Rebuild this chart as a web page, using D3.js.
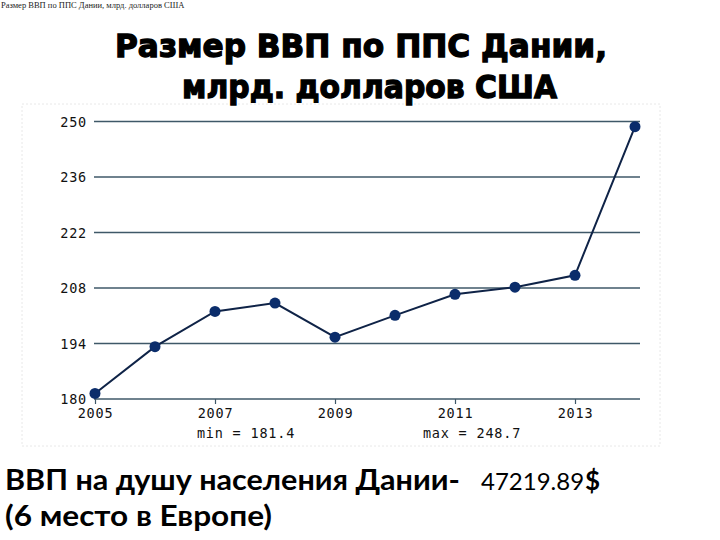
<!DOCTYPE html>
<html>
<head>
<meta charset="utf-8">
<script src="https://cdn.jsdelivr.net/npm/d3@7"></script>
<style>
  html, body { margin: 0; padding: 0; background: #ffffff; }
  svg { display: block; }
</style>
</head>
<body>
<svg id="chart" width="720" height="540"></svg>
<script>
// ---- data ----
const years = [2005, 2006, 2007, 2008, 2009, 2010, 2011, 2012, 2013, 2014];
const gdpPPP = [181.4, 193.2, 202.1, 204.2, 195.6, 201.1, 206.4, 208.2, 211.2, 248.7];
const yTicks = [180, 194, 208, 222, 236, 250];
const xTicks = [2005, 2007, 2009, 2011, 2013];
const titleLines = ["Размер ВВП по ППС Дании,", "млрд. долларов США"];
const smallCaption = "Размер ВВП по ППС Дании, млрд. долларов США";
const minLabel = "min = 181.4";
const maxLabel = "max = 248.7";
const footerLine1 = "ВВП на душу населения Дании-";
const footerValue = "47219.89";
const footerCurrency = "$";
const footerLine2 = "(6 место в Европе)";

const svg = d3.select("#chart");

// faint frame around chart picture
svg.append("rect")
  .attr("x", 22).attr("y", 104).attr("width", 638).attr("height", 342)
  .attr("fill", "none").attr("stroke", "#e8e8e8").attr("stroke-dasharray", "2,2");

// small caption top-left
svg.append("text")
  .attr("x", 1).attr("y", 8)
  .attr("font-family", "Liberation Serif, serif")
  .attr("font-size", 8.5)
  .attr("fill", "#222")
  .text(smallCaption);

// title
const titleSpec = [{x: 115, w: 492, y: 57}, {x: 182, w: 375, y: 98}];
svg.append("g").selectAll("text").data(titleLines).join("text")
  .attr("x", (d, i) => titleSpec[i].x)
  .attr("y", (d, i) => titleSpec[i].y)
  .attr("textLength", (d, i) => titleSpec[i].w)
  .attr("lengthAdjust", "spacingAndGlyphs")
  .attr("font-family", "DejaVu Sans, sans-serif")
  .attr("font-weight", "bold")
  .attr("font-size", 32)
  .attr("fill", "#000")
  .attr("stroke", "#000").attr("stroke-width", 1.3)
  .text(d => d);

// scales
const x = d3.scaleLinear().domain([2005, 2014]).range([95, 635]);
const y = d3.scaleLinear().domain([180, 250]).range([399, 121.5]);

const monoFont = "DejaVu Sans Mono, Liberation Mono, monospace";

// gridlines
svg.append("g").selectAll("line").data(yTicks).join("line")
  .attr("x1", 94).attr("x2", 640)
  .attr("y1", d => y(d)).attr("y2", d => y(d))
  .attr("stroke", "#3f5868").attr("stroke-width", 1.6);

// y labels
svg.append("g").selectAll("text").data(yTicks).join("text")
  .attr("x", 87).attr("y", d => y(d) + 5)
  .attr("text-anchor", "end")
  .attr("font-family", monoFont)
  .attr("font-size", 13.5)
  .attr("letter-spacing", 0.8)
  .attr("fill", "#111")
  .text(d => d);

// x axis (ticks + labels)
const xAxis = d3.axisBottom(x).tickValues(xTicks).tickFormat(d3.format("d")).tickSize(5).tickPadding(4);
const gx = svg.append("g").attr("transform", `translate(0,${y(180)})`).call(xAxis);
gx.select(".domain").remove();
gx.selectAll(".tick line").attr("stroke", "#3f5868").attr("stroke-width", 1.2);
gx.selectAll(".tick text")
  .attr("font-family", monoFont)
  .attr("font-size", 13.5)
  .attr("letter-spacing", 0.8)
  .attr("fill", "#111");

// min / max annotations
svg.append("text")
  .attr("x", 246).attr("y", 438).attr("text-anchor", "middle")
  .attr("font-family", monoFont).attr("font-size", 13.5).attr("letter-spacing", 0.8)
  .attr("fill", "#111").text(minLabel);
svg.append("text")
  .attr("x", 472).attr("y", 438).attr("text-anchor", "middle")
  .attr("font-family", monoFont).attr("font-size", 13.5).attr("letter-spacing", 0.8)
  .attr("fill", "#111").text(maxLabel);

// line
const pts = years.map((yr, i) => [yr, gdpPPP[i]]);
svg.append("path")
  .datum(pts)
  .attr("fill", "none")
  .attr("stroke", "#0f2347")
  .attr("stroke-width", 2)
  .attr("d", d3.line().x(d => x(d[0])).y(d => y(d[1])));

// markers
svg.append("g").selectAll("circle").data(pts).join("circle")
  .attr("cx", d => x(d[0])).attr("cy", d => y(d[1]))
  .attr("r", 5.5)
  .attr("fill", "#0b2d6b");

// footer
const footFont = "Lato, Open Sans, sans-serif";
svg.append("text")
  .attr("x", 5).attr("y", 490)
  .attr("textLength", 455).attr("lengthAdjust", "spacingAndGlyphs")
  .attr("font-family", footFont).attr("font-size", 28).attr("font-weight", "bold")
  .attr("fill", "#000").text(footerLine1);
const numText = svg.append("text")
  .attr("x", 481).attr("y", 490)
  .attr("font-family", footFont).attr("font-size", 24).attr("font-weight", "normal")
  .attr("fill", "#000").text(footerValue);
const numEnd = 481 + numText.node().getComputedTextLength();
svg.append("text")
  .attr("x", numEnd + 1).attr("y", 490)
  .attr("font-family", footFont).attr("font-size", 26).attr("font-weight", "bold")
  .attr("fill", "#000").text(footerCurrency);
svg.append("text")
  .attr("x", 5).attr("y", 526)
  .attr("textLength", 267).attr("lengthAdjust", "spacingAndGlyphs")
  .attr("font-family", footFont).attr("font-size", 28).attr("font-weight", "bold")
  .attr("fill", "#000").text(footerLine2);
</script>
</body>
</html>
